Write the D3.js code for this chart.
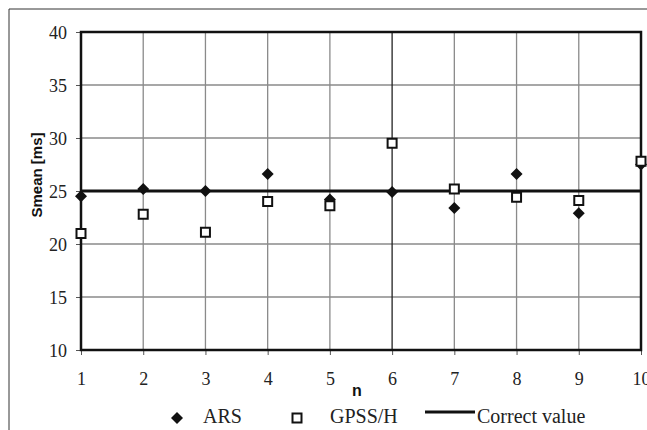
<!DOCTYPE html>
<html>
<head>
<meta charset="utf-8">
<script src="https://cdn.jsdelivr.net/npm/d3@7"></script>
<style>
  body { margin: 0; background: #fff; }
  svg { display: block; }
</style>
</head>
<body>
<script>
// values
const runs = [1, 2, 3, 4, 5, 6, 7, 8, 9, 10];
const arsValues = [24.5, 25.2, 25.0, 26.6, 24.2, 24.9, 23.4, 26.6, 22.9, 27.5];
const gpssValues = [21.0, 22.8, 21.1, 24.0, 23.6, 29.5, 25.2, 24.4, 24.1, 27.8];
const correctValue = 25;
const yTicks = [10, 15, 20, 25, 30, 35, 40];

const width = 647;
const height = 430;
const plot = { left: 81, right: 641, top: 32, bottom: 350 };
const serif = '"Liberation Serif", "Times New Roman", serif';
const sans = '"Liberation Sans", Arial, sans-serif';

const svg = d3.select('body')
  .append('svg')
  .attr('width', width)
  .attr('height', height);

const x = d3.scaleLinear().domain([1, 10]).range([plot.left, plot.right]);
const y = d3.scaleLinear().domain([10, 40]).range([plot.bottom, plot.top]);

// outer frame (top and left only)
svg.append('path')
  .attr('d', `M9,${height} L9,9 L${width},9`)
  .attr('fill', 'none')
  .attr('stroke', '#333')
  .attr('stroke-width', 1);

// grid lines
const grid = svg.append('g');
grid.selectAll('line.hgrid')
  .data(yTicks.slice(1, -1))
  .enter()
  .append('line')
  .attr('x1', plot.left)
  .attr('x2', plot.right)
  .attr('y1', y)
  .attr('y2', y)
  .attr('stroke', '#8a8a8a')
  .attr('stroke-width', 1.3);

grid.selectAll('line.vgrid')
  .data(runs.slice(1, -1))
  .enter()
  .append('line')
  .attr('x1', x)
  .attr('x2', x)
  .attr('y1', plot.top)
  .attr('y2', plot.bottom)
  .attr('stroke', (d) => (d === 6 ? '#222' : '#8a8a8a'))
  .attr('stroke-width', 1.3);

// axes with outside ticks
const yAxis = svg.append('g')
  .attr('transform', `translate(${plot.left},0)`)
  .call(d3.axisLeft(y).tickValues(yTicks).tickSize(5).tickPadding(9))
  .attr('font-family', serif)
  .attr('font-size', 18);
yAxis.select('.domain').remove();
yAxis.selectAll('line').attr('stroke', '#555');
yAxis.selectAll('text').attr('fill', '#222').attr('dy', '0.35em');

const xAxis = svg.append('g')
  .attr('transform', `translate(0,${plot.bottom})`)
  .call(d3.axisBottom(x).tickValues(runs).tickFormat(d3.format('d')).tickSize(5).tickPadding(17))
  .attr('font-family', serif)
  .attr('font-size', 18);
xAxis.select('.domain').remove();
xAxis.selectAll('line').attr('stroke', '#555');
xAxis.selectAll('text').attr('fill', '#222');

// plot frame
svg.append('rect')
  .attr('x', plot.left)
  .attr('y', plot.top)
  .attr('width', plot.right - plot.left)
  .attr('height', plot.bottom - plot.top)
  .attr('fill', 'none')
  .attr('stroke', '#111')
  .attr('stroke-width', 2.5);

// correct value line
svg.append('line')
  .attr('x1', plot.left)
  .attr('x2', plot.right)
  .attr('y1', y(correctValue))
  .attr('y2', y(correctValue))
  .attr('stroke', '#111')
  .attr('stroke-width', 3);

const diamond = d3.symbol().type(d3.symbolSquare).size(72);
const square = d3.symbol().type(d3.symbolSquare).size(81);

// ARS diamonds
svg.append('g')
  .selectAll('path')
  .data(arsValues)
  .enter()
  .append('path')
  .attr('d', diamond)
  .attr('transform', (d, i) => `translate(${x(runs[i])},${y(d)}) rotate(45)`)
  .attr('fill', '#111');

// GPSS/H squares
svg.append('g')
  .selectAll('path')
  .data(gpssValues)
  .enter()
  .append('path')
  .attr('d', square)
  .attr('transform', (d, i) => `translate(${x(runs[i])},${y(d)})`)
  .attr('fill', '#fff')
  .attr('stroke', '#111')
  .attr('stroke-width', 2);

// axis titles
svg.append('text')
  .attr('transform', 'translate(42,175) rotate(-90)')
  .attr('text-anchor', 'middle')
  .attr('font-family', sans)
  .attr('font-weight', 'bold')
  .attr('font-size', 15)
  .attr('fill', '#111')
  .text('Smean [ms]');

svg.append('text')
  .attr('x', 357)
  .attr('y', 396)
  .attr('text-anchor', 'middle')
  .attr('font-family', sans)
  .attr('font-weight', 'bold')
  .attr('font-size', 16)
  .attr('fill', '#111')
  .text('n');

// legend
const legend = svg.append('g')
  .attr('font-family', serif)
  .attr('font-size', 20)
  .attr('fill', '#222');

legend.append('path')
  .attr('d', diamond)
  .attr('transform', 'translate(177,418) rotate(45)')
  .attr('fill', '#111');
legend.append('text')
  .attr('x', 203)
  .attr('y', 423)
  .text('ARS');

legend.append('path')
  .attr('d', square)
  .attr('transform', 'translate(297,418)')
  .attr('fill', '#fff')
  .attr('stroke', '#111')
  .attr('stroke-width', 2);
legend.append('text')
  .attr('x', 330)
  .attr('y', 423)
  .text('GPSS/H');

legend.append('line')
  .attr('x1', 425)
  .attr('x2', 475)
  .attr('y1', 412)
  .attr('y2', 412)
  .attr('stroke', '#111')
  .attr('stroke-width', 3);
legend.append('text')
  .attr('x', 477)
  .attr('y', 423)
  .text('Correct value');
</script>
</body>
</html>
